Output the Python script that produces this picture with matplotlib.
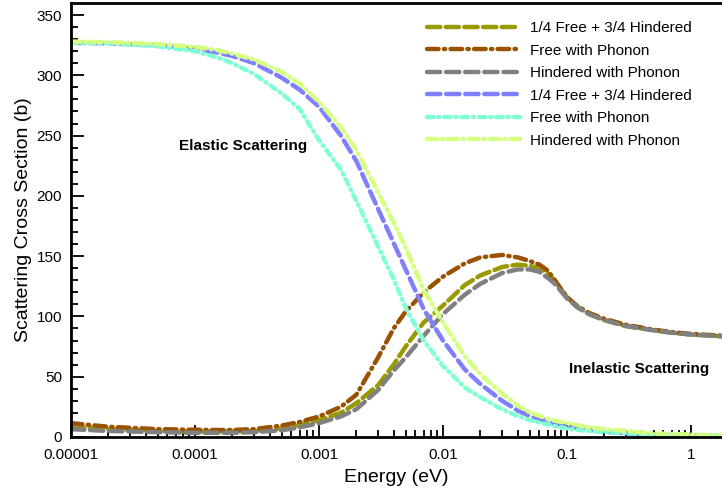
import matplotlib.pyplot as plt
import numpy as np

plt.rcParams['font.family'] = ['Liberation Sans', 'DejaVu Sans']

# Energy grid (eV)
energy = [1e-5, 2e-5, 5e-5, 1e-4, 1.5e-4, 2e-4, 3e-4, 5e-4, 7e-4, 1e-3, 1.5e-3, 2e-3,
          3e-3, 4e-3, 5e-3, 7e-3, 1e-2, 1.5e-2, 2e-2, 3e-2, 4e-2, 5e-2, 6e-2, 7e-2,
          8e-2, 0.1, 0.12, 0.15, 0.2, 0.3, 0.5, 0.7, 1.0, 1.8]

# Inelastic scattering cross sections (b)
inel_mix = [8.5, 6.5, 5, 4.5, 4.5, 4.5, 5, 7, 10, 14, 20, 28,
            43, 60, 75, 95, 109, 126, 134, 141, 143, 142, 140, 136,
            129, 116, 108, 102, 97, 92, 88.5, 86.5, 85, 83.5]
inel_free = [11.5, 8.5, 6.5, 6, 5.8, 5.8, 6.5, 9.5, 12.5, 17, 25, 35,
             66, 90, 104, 120, 133, 144, 149, 151, 149, 146, 143, 138,
             130, 116, 109, 103, 98, 93, 89, 87, 85.5, 84]
inel_hind = [6.5, 5, 4, 3.5, 3.5, 3.5, 4, 5.5, 8, 11.5, 17, 23,
             39, 55, 66, 84, 102, 118, 127, 136, 139, 139, 137, 132,
             127, 115, 108, 102, 97, 92, 88.5, 86.5, 85, 83.5]

# Elastic scattering cross sections (b)
el_mix = [327, 326.5, 325, 322, 319, 316, 310, 298, 288, 274, 250, 229,
          189, 161, 139, 106, 80, 56, 44, 30, 22, 17.5, 15, 13,
          11, 9, 7.5, 6, 4.5, 3, 2, 1.6, 1.3, 1]
el_free = [327, 326.5, 324, 320, 315, 310, 301, 285, 272, 246, 222, 196,
           158, 131, 107, 80, 59, 41, 33, 23, 17.5, 14, 12, 10.5,
           9, 7, 6, 5, 4, 3, 2, 1.5, 1.2, 0.8]
el_hind = [328, 327.5, 326, 323.5, 321, 318, 313, 303, 293, 278, 257, 238,
           203, 178, 157, 122, 95, 67, 52, 36, 26, 20.5, 17.5, 15,
           13.5, 11.5, 10, 8, 6.5, 5, 3, 2.5, 2, 1.5]

labels = ['1/4 Free + 3/4 Hindered', 'Free with Phonon', 'Hindered with Phonon',
          '1/4 Free + 3/4 Hindered', 'Free with Phonon', 'Hindered with Phonon']

fig = plt.figure(figsize=(7.22, 4.93), dpi=100)
ax = fig.add_axes([0.0983, 0.1136, 0.9017, 0.8804])

lw = 3.2
ax.plot(energy, inel_mix, color='#999900', lw=lw, dashes=(3.0, 1.2), dash_capstyle='round', label=labels[0])
ax.plot(energy, inel_free, color='#995200', lw=lw, dashes=(2.6, 1.2, 0.3, 1.2), dash_capstyle='round', label=labels[1])
ax.plot(energy, inel_hind, color='#808080', lw=lw, dashes=(3.0, 1.3), dash_capstyle='round', label=labels[2])
ax.plot(energy, el_mix, color='#7f7fff', lw=lw, dashes=(3.0, 1.3), dash_capstyle='round', label=labels[3])
ax.plot(energy, el_free, color='#7fffd4', lw=lw, dashes=(1.4, 1.1, 0.3, 1.1), dash_capstyle='round', label=labels[4])
ax.plot(energy, el_hind, color='#d4ff7f', lw=lw, dashes=(2.2, 1.1, 0.3, 1.1), dash_capstyle='round', label=labels[5])

ax.set_xscale('log')
ax.set_xlim(1e-5, 1.78)
ax.set_ylim(0, 360)
ax.set_yticks(np.arange(0, 351, 50))
ax.set_yticks(np.arange(0, 360, 10), minor=True)
ax.set_xticks([1e-5, 1e-4, 1e-3, 1e-2, 1e-1, 1])
ax.set_xticklabels(['0.00001', '0.0001', '0.001', '0.01', '0.1', '1'])

ax.tick_params(which='both', direction='in', labelsize=11, width=1.3)
ax.tick_params(which='major', length=9)
ax.tick_params(which='minor', length=5)
ax.tick_params(axis='x', pad=8)
ax.tick_params(axis='y', pad=6.5)
for s in ['left', 'bottom', 'top']:
    ax.spines[s].set_linewidth(2)
ax.spines['right'].set_visible(False)

ax.set_xlabel('Energy (eV)', fontsize=14, labelpad=5)
ax.set_ylabel('Scattering Cross Section (b)', fontsize=14)
ax.yaxis.set_label_coords(-0.06, 0.5)

ax.text(2.44e-4, 241, 'Elastic Scattering', fontsize=11, fontweight='bold', ha='center', va='center')
ax.text(0.38, 56, 'Inelastic Scattering', fontsize=11, fontweight='bold', ha='center', va='center')

ax.legend(loc='upper left', bbox_to_anchor=(0.525, 0.99), frameon=False, fontsize=11,
          handlelength=6.1, labelspacing=0.56, handletextpad=0.65)

fig.savefig('out.png', dpi=100)
